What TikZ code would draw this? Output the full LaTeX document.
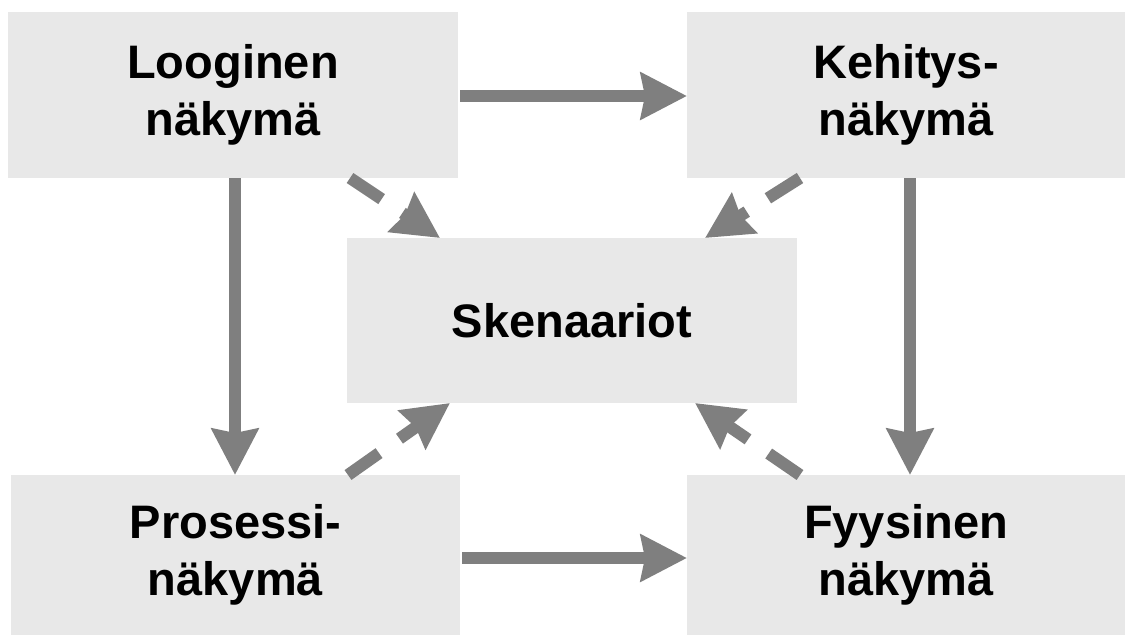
\documentclass[tikz,border=0pt]{standalone}
\usepackage{fontspec}
\setmainfont{Liberation Sans}
\usetikzlibrary{arrows.meta,calc}
\definecolor{boxgray}{HTML}{E8E8E8}
\definecolor{arrgray}{HTML}{7F7F7F}
\begin{document}
\begin{tikzpicture}[x=1pt,y=-1pt,
  box/.style={fill=boxgray,draw=none,inner sep=0pt,outer sep=0pt,align=center,
    font=\fontsize{47}{57}\selectfont\bfseries},
  arr/.style={draw=arrgray,line width=12pt,
    -{Stealth[length=46pt,width=46pt,inset=4pt,fill=arrgray]}},
  darr/.style={arr,dash pattern=on 38pt off 25pt}]
\useasboundingbox (0,0) rectangle (1125,635);
\node[box,minimum width=450pt,minimum height=166pt] (tl) at (233,95) {Looginen\\näkymä};
\node[box,minimum width=438pt,minimum height=166pt] (tr) at (906,95) {Kehitys-\\näkymä};
\node[box,minimum width=450pt,minimum height=165pt] (c) at (572,320.5) {Skenaariot};
\node[box,minimum width=449pt,minimum height=160pt] (bl) at (235.5,555) {Prosessi-\\näkymä};
\node[box,minimum width=438pt,minimum height=160pt] (br) at (906,555) {Fyysinen\\näkymä};
% solid arrows
\draw[arr] ($(tl.east)+(2,1)$) -- ($(tr.west)+(0,1)$);
\draw[arr] ($(bl.east)+(2,3)$) -- ($(br.west)+(0,3)$);
\draw[arr] ($(tl.south west)+(227,0)$) -- ($(bl.north west)+(224,0)$);
\draw[arr] ($(tr.south west)+(223,0)$) -- ($(br.north west)+(223,0)$);
% dashed arrows
\draw[darr] ($(tl.south west)+(342,0)$) -- ($(c.north west)+(93,0)$);
\draw[darr] ($(tr.south west)+(113,0)$) -- ($(c.north east)+(-92,0)$);
\draw[darr] ($(bl.north west)+(337,0)$) -- ($(c.south west)+(103,0)$);
\draw[darr] ($(br.north west)+(113,0)$) -- ($(c.south east)+(-102,0)$);
\end{tikzpicture}
\end{document}
